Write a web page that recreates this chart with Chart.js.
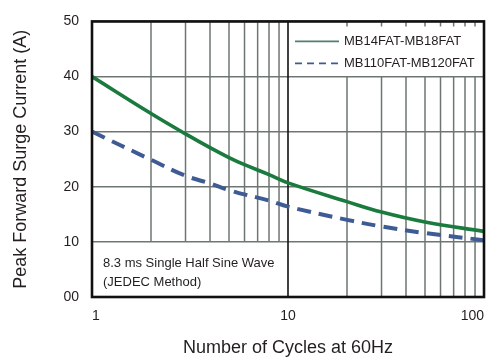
<!DOCTYPE html>
<html>
<head>
<meta charset="utf-8">
<script src="https://cdn.jsdelivr.net/npm/chart.js@4/dist/chart.umd.min.js"></script>
<style>
  html, body { margin: 0; padding: 0; background: #ffffff; }
  #wrap { width: 495px; height: 359px; }
</style>
</head>
<body>
<div id="wrap"><canvas id="c" width="495" height="359"></canvas></div>
<script>
// ---- data ----
const cycles      = [1, 2, 3, 4, 5, 6, 8, 10, 20, 30, 50, 100];
const mb14to18    = [40, 33.3, 29.6, 27.1, 25.3, 24.0, 22.2, 20.7, 17.3, 15.4, 13.6, 11.9];
const mb110to120  = [30, 24.9, 22.0, 20.6, 19.4, 18.6, 17.5, 16.4, 14.0, 12.8, 11.6, 10.3];
const seriesNames = ['MB14FAT-MB18FAT', 'MB110FAT-MB120FAT'];
const xTickValues = [1, 10, 100];
const xTickLabels = ['1', '10', '100'];
const yTickValues = [0, 10, 20, 30, 40, 50];
const yTickLabels = ['00', '10', '20', '30', '40', '50'];
const minorLow    = [2, 3, 4, 5, 6, 7, 8, 9];
const minorHigh   = [20, 30, 40, 50, 60, 70, 80, 90];
const noteLines   = ['8.3 ms Single Half Sine Wave', '(JEDEC Method)'];
const xTitle      = 'Number of Cycles at 60Hz';
const yTitle      = 'Peak Forward Surge Current (A)';

const FONT = "'Liberation Sans', Arial, sans-serif";
const TEXT = '#231f20';
const GRID = '#6e7672';

const toPts = (ys) => cycles.map((c, i) => ({ x: c, y: ys[i] }));

const overlay = {
  id: 'overlay',
  beforeDatasetsDraw(chart) {
    const { ctx, chartArea: a, scales: { x, y } } = chart;
    ctx.save();
    ctx.strokeStyle = GRID;
    ctx.lineWidth = 1.5;
    minorLow.forEach(v => {
      const px = x.getPixelForValue(v);
      ctx.beginPath();
      ctx.moveTo(px, a.top);
      ctx.lineTo(px, y.getPixelForValue(10));
      ctx.stroke();
    });
    minorHigh.forEach(v => {
      const px = x.getPixelForValue(v);
      ctx.beginPath();
      ctx.moveTo(px, y.getPixelForValue(40));
      ctx.lineTo(px, a.bottom);
      ctx.moveTo(px, a.top);
      ctx.lineTo(px, a.top + 5);
      ctx.stroke();
    });
    ctx.strokeStyle = '#111';
    ctx.lineWidth = 1.6;
    const p10 = x.getPixelForValue(10);
    ctx.beginPath();
    ctx.moveTo(p10, a.top);
    ctx.lineTo(p10, a.bottom);
    ctx.stroke();
    ctx.restore();
  },
  afterDatasetsDraw(chart) {
    const { ctx, chartArea: a, scales: { x, y } } = chart;
    ctx.save();
    ctx.strokeStyle = '#111';
    ctx.lineWidth = 2.6;
    ctx.strokeRect(a.left, a.top, a.right - a.left, a.bottom - a.top);

    ctx.font = '13px ' + FONT;
    ctx.textBaseline = 'middle';
    ctx.fillStyle = TEXT;
    const lx0 = x.getPixelForValue(10) + 7;
    const lx1 = lx0 + 44;
    chart.data.datasets.forEach((ds, i) => {
      const ly = a.top + 20 + i * 22;
      ctx.beginPath();
      ctx.strokeStyle = ds.legendColor;
      ctx.lineWidth = 1.6;
      ctx.setLineDash(ds.legendDash);
      ctx.moveTo(lx0, ly);
      ctx.lineTo(lx1, ly);
      ctx.stroke();
      ctx.setLineDash([]);
      ctx.fillText(ds.label, lx1 + 5, ly);
    });

    ctx.font = '13px ' + FONT;
    ctx.fillStyle = TEXT;
    const nx = a.left + 11;
    noteLines.forEach((t, i) => {
      ctx.fillText(t, nx, y.getPixelForValue(10) + 22 + i * 19);
    });
    ctx.restore();
  }
};

new Chart(document.getElementById('c'), {
  type: 'line',
  data: {
    datasets: [
      {
        label: seriesNames[0],
        data: toPts(mb14to18),
        borderColor: '#1b7a3e',
        borderWidth: 3.6,
        pointRadius: 0,
        tension: 0.4,
        fill: false,
        legendColor: '#4f7e72',
        legendDash: []
      },
      {
        label: seriesNames[1],
        data: toPts(mb110to120),
        borderColor: '#3f5b94',
        borderWidth: 4,
        borderDash: [14, 8],
        pointRadius: 0,
        tension: 0.4,
        fill: false,
        legendColor: '#3f5b94',
        legendDash: [7, 5]
      }
    ]
  },
  options: {
    responsive: false,
    animation: false,
    events: [],
    layout: { padding: { left: 0, right: 9, top: 15, bottom: 0 } },
    plugins: {
      legend: { display: false },
      tooltip: { enabled: false },
      title: { display: false }
    },
    scales: {
      x: {
        type: 'logarithmic',
        min: 1,
        max: 100,
        afterBuildTicks(scale) { scale.ticks = xTickValues.map(v => ({ value: v })); },
        afterFit(scale) { scale.height = 62; },
        grid: { display: false, drawTicks: false },
        border: { display: false },
        ticks: {
          autoSkip: false,
          maxRotation: 0,
          align: 'inner',
          padding: 11,
          color: TEXT,
          font: { family: FONT, size: 14 },
          callback(value) {
            const i = xTickValues.indexOf(value);
            return i >= 0 ? xTickLabels[i] : '';
          }
        },
        title: {
          display: true,
          text: xTitle,
          color: TEXT,
          font: { family: FONT, size: 18 },
          padding: { top: 0, bottom: 0 }
        }
      },
      y: {
        type: 'linear',
        min: 0,
        max: 50,
        afterBuildTicks(scale) { scale.ticks = yTickValues.map(v => ({ value: v })); },
        afterFit(scale) { scale.width = 92; },
        grid: { color: GRID, lineWidth: 1.5, drawTicks: false },
        border: { display: false },
        ticks: {
          padding: 13,
          color: TEXT,
          font: { family: FONT, size: 14 },
          callback(value) {
            const i = yTickValues.indexOf(value);
            return i >= 0 ? yTickLabels[i] : '';
          }
        },
        title: {
          display: true,
          text: yTitle,
          color: TEXT,
          font: { family: FONT, size: 18 },
          padding: { top: 10, bottom: 0 }
        }
      }
    }
  },
  plugins: [overlay]
});
</script>
</body>
</html>
